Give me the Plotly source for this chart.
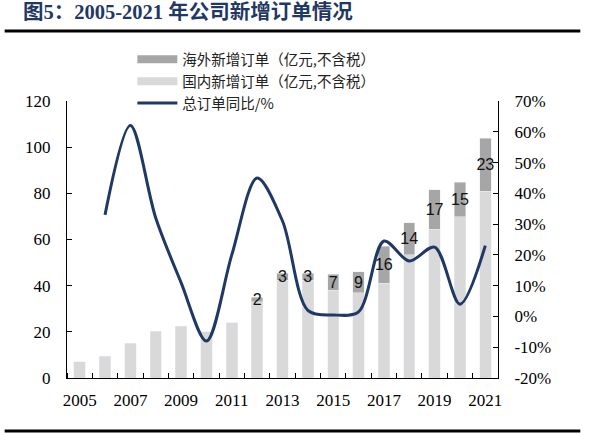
import plotly.graph_objects as go

# data
years = list(range(2005, 2022))
domestic = [7, 9.5, 15, 20.3, 22.5, 20, 24, 33, 42.3, 42.4, 38, 37, 41, 53.3, 64.5, 69.8, 80.8]
overseas = [None, None, None, None, None, None, None, 2, 3, 3, 7, 9, 16, 14, 17, 15, 23]
growth = [None, 33, 62, 32, 11, -8, 20, 45, 31, 2, 0.5, 1.5, 24.5, 18, 22.5, 4, 23]

left_ticks = list(range(0, 121, 20))
right_ticks = list(range(-20, 71, 10))
right_labels = [f"{v}%" for v in right_ticks]

W, H = 592, 433
ML, MR, MT, MB = 66.5, 93.5, 100.7, 55

NAVY = "#1f3864"
DARK = "#a6a6a6"
LIGHT = "#d9d9d9"
SERIF = "Liberation Serif, Times New Roman, serif"
CJK = "Noto Sans CJK SC, sans-serif"


def px_x(v):
    return (v - ML) / (W - ML - MR)


def px_y(v):
    return (H - MB - v) / (H - MT - MB)


fig = go.Figure()

fig.add_trace(go.Bar(
    x=years, y=domestic, name="国内新增订单（亿元,不含税）",
    marker_color=LIGHT, width=0.45, showlegend=False,
))
fig.add_trace(go.Bar(
    x=years, y=overseas, name="海外新增订单（亿元,不含税）",
    marker_color=DARK, width=0.45, showlegend=False,
    text=[f"{v:g}" if v else "" for v in overseas],
    textposition="inside", insidetextanchor="middle", constraintext="none", textangle=0,
    textfont=dict(family="Liberation Sans, Arial, sans-serif", size=16, color="#111111"),
    cliponaxis=False,
))
fig.add_trace(go.Scatter(
    x=years, y=growth, yaxis="y2", name="总订单同比/%",
    mode="lines", line=dict(color=NAVY, width=3, shape="spline", smoothing=0.9),
    showlegend=False,
))

# legend entries (bar swatches drawn as thick lines to get the long flat keys)
fig.add_trace(go.Scatter(x=[None], y=[None], mode="lines", name="海外新增订单（亿元,不含税）",
                         line=dict(color=DARK, width=8)))
fig.add_trace(go.Scatter(x=[None], y=[None], mode="lines", name="国内新增订单（亿元,不含税）",
                         line=dict(color=LIGHT, width=8)))
fig.add_trace(go.Scatter(x=[None], y=[None], mode="lines", name="总订单同比/%",
                         line=dict(color=NAVY, width=3)))

fig.update_layout(
    width=W, height=H,
    margin=dict(l=ML, r=MR, t=MT, b=MB, autoexpand=False),
    paper_bgcolor="white", plot_bgcolor="white",
    barmode="stack",
    showlegend=True,
    legend=dict(
        x=px_x(132), y=px_y(43), xanchor="left", yanchor="top",
        bgcolor="rgba(0,0,0,0)", font=dict(family=CJK, size=14.5, color="#222222"),
        itemwidth=40, tracegroupgap=0, traceorder="normal",
    ),
    xaxis=dict(
        range=[2004.5, 2021.5], tickvals=years[::2], ticks="",
        minor=dict(tick0=2004.5, dtick=1, ticks="inside", ticklen=5, tickcolor="black"),
        showline=True, linecolor="black", linewidth=1, showgrid=False, zeroline=False,
        tickfont=dict(family=SERIF, size=17, color="black"), ticklabelstandoff=7,
    ),
    yaxis=dict(
        range=[0, 120], tickvals=left_ticks, ticks="inside", ticklen=5, tickcolor="black",
        showline=True, linecolor="black", linewidth=1, showgrid=False, zeroline=False,
        tickfont=dict(family=SERIF, size=17, color="black"), ticklabelstandoff=12,
    ),
    yaxis2=dict(
        range=[-20, 70], tickvals=right_ticks, ticktext=right_labels,
        overlaying="y", side="right",
        ticks="inside", ticklen=5, tickcolor="black",
        showline=True, linecolor="black", linewidth=1, showgrid=False, zeroline=False,
        tickfont=dict(family=SERIF, size=17, color="black"), ticklabelstandoff=12,
    ),
    shapes=[
        dict(type="line", xref="paper", yref="paper", x0=px_x(4), x1=px_x(581),
             y0=px_y(30.5), y1=px_y(30.5), line=dict(color="black", width=3)),
        dict(type="line", xref="paper", yref="paper", x0=px_x(4), x1=px_x(581),
             y0=px_y(431), y1=px_y(431), line=dict(color="black", width=3)),
    ],
    annotations=[
        dict(text="<b>图5：2005-2021 年公司新增订单情况</b>", xref="paper", yref="paper",
             x=px_x(20), y=px_y(11), xanchor="left", yanchor="middle", showarrow=False,
             font=dict(family="Liberation Serif, Noto Sans CJK SC, serif", size=20.5, color="#1f3864")),
    ],
)

# drop the default page margin so the figure sits at the window's top-left corner
fig.write_html("out.html", config={"displayModeBar": False},
               post_script="document.body.style.margin='0';")
